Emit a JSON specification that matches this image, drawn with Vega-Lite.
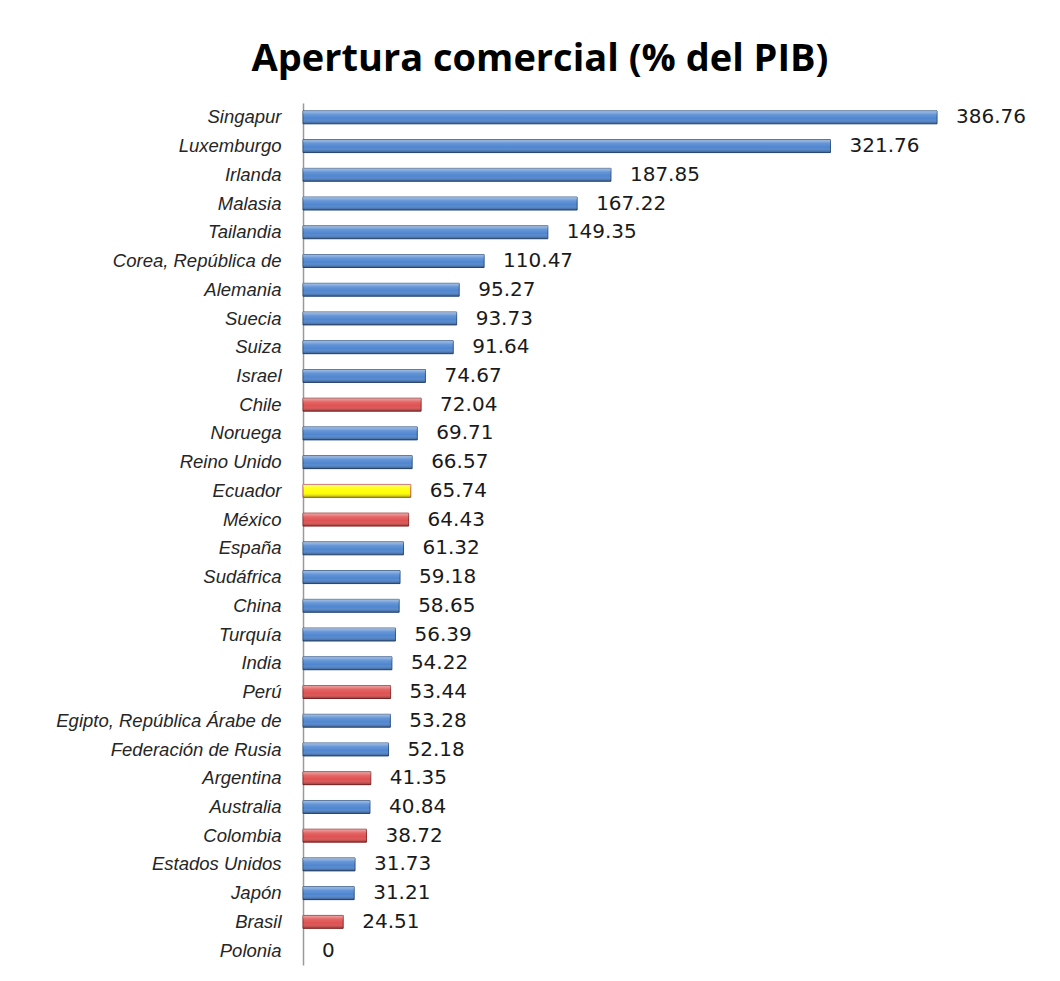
{
  "$schema": "https://vega.github.io/schema/vega-lite/v6.json",
  "width": 700,
  "height": 862,
  "autosize": {"type": "none"},
  "padding": {"left": 303, "top": 103, "right": 57, "bottom": 16},
  "background": "white",
  "title": {
    "text": "Apertura comercial (% del PIB)",
    "font": "Open Sans",
    "fontWeight": "bold",
    "fontSize": 38,
    "color": "#000000",
    "anchor": "middle",
    "dx": -113,
    "offset": 24
  },
  "config": {
    "view": {"stroke": null},
    "scale": {"bandPaddingInner": 0.55, "bandPaddingOuter": 0.275}
  },
  "data": {
    "values": [
      {"pais": "Singapur", "valor": 386.76, "g": "azul"},
      {"pais": "Luxemburgo", "valor": 321.76, "g": "azul"},
      {"pais": "Irlanda", "valor": 187.85, "g": "azul"},
      {"pais": "Malasia", "valor": 167.22, "g": "azul"},
      {"pais": "Tailandia", "valor": 149.35, "g": "azul"},
      {"pais": "Corea, República de", "valor": 110.47, "g": "azul"},
      {"pais": "Alemania", "valor": 95.27, "g": "azul"},
      {"pais": "Suecia", "valor": 93.73, "g": "azul"},
      {"pais": "Suiza", "valor": 91.64, "g": "azul"},
      {"pais": "Israel", "valor": 74.67, "g": "azul"},
      {"pais": "Chile", "valor": 72.04, "g": "rojo"},
      {"pais": "Noruega", "valor": 69.71, "g": "azul"},
      {"pais": "Reino Unido", "valor": 66.57, "g": "azul"},
      {"pais": "Ecuador", "valor": 65.74, "g": "amarillo"},
      {"pais": "México", "valor": 64.43, "g": "rojo"},
      {"pais": "España", "valor": 61.32, "g": "azul"},
      {"pais": "Sudáfrica", "valor": 59.18, "g": "azul"},
      {"pais": "China", "valor": 58.65, "g": "azul"},
      {"pais": "Turquía", "valor": 56.39, "g": "azul"},
      {"pais": "India", "valor": 54.22, "g": "azul"},
      {"pais": "Perú", "valor": 53.44, "g": "rojo"},
      {"pais": "Egipto, República Árabe de", "valor": 53.28, "g": "azul"},
      {"pais": "Federación de Rusia", "valor": 52.18, "g": "azul"},
      {"pais": "Argentina", "valor": 41.35, "g": "rojo"},
      {"pais": "Australia", "valor": 40.84, "g": "azul"},
      {"pais": "Colombia", "valor": 38.72, "g": "rojo"},
      {"pais": "Estados Unidos", "valor": 31.73, "g": "azul"},
      {"pais": "Japón", "valor": 31.21, "g": "azul"},
      {"pais": "Brasil", "valor": 24.51, "g": "rojo"},
      {"pais": "Polonia", "valor": 0, "g": "azul"}
    ]
  },
  "encoding": {
    "y": {
      "field": "pais",
      "type": "nominal",
      "sort": null,
      "axis": {
        "title": null,
        "ticks": false,
        "labelPadding": 22,
        "labelFont": "Liberation Sans",
        "labelFontStyle": "italic",
        "labelFontSize": 18.5,
        "labelColor": "#262626",
        "domainColor": "#9a9a9a",
        "domainWidth": 1.5,
        "labelLimit": 400
      }
    },
    "x": {
      "field": "valor",
      "type": "quantitative",
      "scale": {"domain": [0, 427], "nice": false},
      "axis": null
    }
  },
  "layer": [
    {
      "mark": {"type": "bar", "strokeWidth": 1},
      "encoding": {
        "fill": {
          "field": "g",
          "type": "nominal",
          "scale": {"domain": ["azul", "rojo", "amarillo"], "range": ["#4f86d0", "#e05050", "#ffff00"]},
          "legend": null
        },
        "stroke": {
          "field": "g",
          "type": "nominal",
          "scale": {"domain": ["azul", "rojo", "amarillo"], "range": ["#2c5080", "#8a2a2a", "#c05050"]},
          "legend": null
        },
        "strokeOpacity": {"condition": {"test": "datum.valor == 0", "value": 0}, "value": 1}
      }
    },
    {
      "mark": {
        "type": "bar",
        "fill": {
          "gradient": "linear",
          "x1": 0, "y1": 0, "x2": 0, "y2": 1,
          "stops": [
            {"offset": 0, "color": "rgba(255,255,255,0.5)"},
            {"offset": 0.3, "color": "rgba(255,255,255,0.12)"},
            {"offset": 0.6, "color": "rgba(255,255,255,0)"},
            {"offset": 1, "color": "rgba(0,0,0,0.35)"}
          ]
        }
      },
      "encoding": {}
    },
    {
      "mark": {
        "type": "text",
        "align": "left",
        "baseline": "middle",
        "dx": 19,
        "font": "DejaVu Sans",
        "fontSize": 20,
        "color": "#1a1a1a"
      },
      "encoding": {
        "text": {"field": "valor", "type": "quantitative", "format": "~r"}
      }
    }
  ]
}
